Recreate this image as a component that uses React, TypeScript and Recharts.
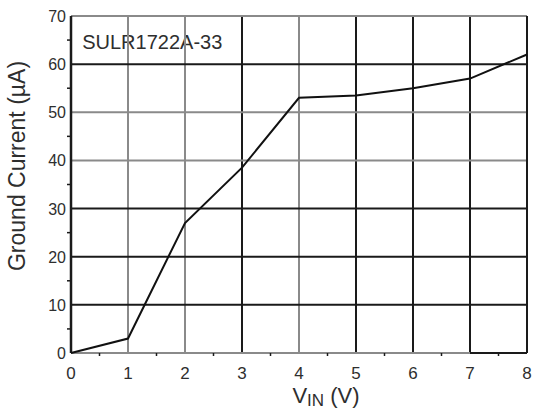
import React from 'react'
import {
  LineChart, Line, XAxis, YAxis, ReferenceLine, ReferenceArea,
} from 'recharts'

// measured ground current vs input voltage
const vin = [0, 1, 2, 3, 4, 5, 6, 7, 8]
const groundCurrent = [0, 3, 27, 38.5, 53, 53.5, 55, 57, 62]

const xMajor = [0, 1, 2, 3, 4, 5, 6, 7, 8]
const xMinor = [0.5, 1.5, 2.5, 3.5, 4.5, 5.5, 6.5, 7.5]
const yMajor = [0, 10, 20, 30, 40, 50, 60, 70]
const yMinor = [5, 15, 25, 35, 45, 55, 65]

const data = vin.map((v, i) => ({ v, ua: groundCurrent[i] }))

const FONT = '"Liberation Sans", Arial, sans-serif'
const TEXT = '#2e2e2e'
const DARK = '#1a1a1a'
const GRAY = '#8a8a8a'

// grid shading as printed: some rules come out heavier than others
const vDark = new Set([3, 5, 6, 7])
const hDark = new Set([10, 20, 30, 60])

const YTick = ({ x, y, payload }: any) => {
  const v = payload.value
  if (v % 10 !== 0) {
    return <line x1={x - 4} x2={x} y1={y} y2={y} stroke={DARK} strokeWidth={1.5} />
  }
  return (
    <text x={x - 5} y={y + 6} textAnchor="end" fontSize={16} fill={TEXT} fontFamily={FONT}>
      {v}
    </text>
  )
}

const XTick = ({ x, y, payload }: any) => {
  const v = payload.value
  if (!Number.isInteger(v)) {
    return <line x1={x} x2={x} y1={y} y2={y + 3} stroke={DARK} strokeWidth={1.5} />
  }
  return (
    <text x={x} y={y + 26} textAnchor="middle" fontSize={17} fill={TEXT} fontFamily={FONT}>
      {v}
    </text>
  )
}

export default function App() {
  return (
    <div style={{ position: 'absolute', left: 0, top: 0, width: 533, height: 411, background: '#fff' }}>
      <LineChart width={533} height={411} data={data}
        margin={{ top: 16, right: 6, left: 0, bottom: 0 }}>
        <XAxis dataKey="v" type="number" domain={[0, 8]} ticks={[...xMajor, ...xMinor]}
          interval={0} height={58} tickSize={0} tickMargin={0} tickLine={false}
          axisLine={false} tick={<XTick />} />
        <YAxis type="number" domain={[0, 70]} ticks={[...yMajor, ...yMinor]}
          interval={0} width={71} tickSize={0} tickMargin={0} tickLine={false}
          axisLine={false} tick={<YTick />} />

        {xMajor.filter(v => v > 0 && v < 8).map(v => (
          <ReferenceLine key={`x${v}`} x={v} stroke={vDark.has(v) ? DARK : GRAY} strokeWidth={2} />
        ))}
        {yMajor.filter(v => v > 0 && v < 70).map(v => (
          <ReferenceLine key={`y${v}`} y={v} stroke={hDark.has(v) ? DARK : GRAY} strokeWidth={2} />
        ))}

        {/* frame */}
        <ReferenceLine y={70} stroke={GRAY} strokeWidth={2} />
        <ReferenceLine y={0} stroke={GRAY} strokeWidth={2} />
        <ReferenceLine segment={[{ x: 7, y: 0 }, { x: 8, y: 0 }]} stroke={DARK} strokeWidth={2} />
        <ReferenceLine x={8} stroke={DARK} strokeWidth={2} />
        <ReferenceLine x={0} stroke={DARK} strokeWidth={2.5} />

        {/* part number box */}
        <ReferenceArea x1={0.03} x2={2.85} y1={62.4} y2={67.7} fill="#fff" fillOpacity={1}
          stroke="none" ifOverflow="visible"
          label={(props: any) => {
            const vb = props.viewBox
            return (
              <text x={vb.x + 9.5} y={48.5} fontSize={20} fill={TEXT} fontFamily={FONT}>
                SULR1722A-33
              </text>
            )
          }} />

        <Line dataKey="ua" type="linear" stroke="#111" strokeWidth={2} dot={false}
          isAnimationActive={false} />

        <text x={25} y={166} transform="rotate(-90 25 166)" textAnchor="middle"
          fontSize={23} fill={TEXT} fontFamily={FONT}>
          Ground Current (µA)
        </text>
        <text x={326} y={403} textAnchor="middle" fontSize={22} fill={TEXT} fontFamily={FONT}>
          V<tspan fontSize={17} dy={3}>IN</tspan><tspan dy={-3}> (V)</tspan>
        </text>
      </LineChart>
    </div>
  )
}
